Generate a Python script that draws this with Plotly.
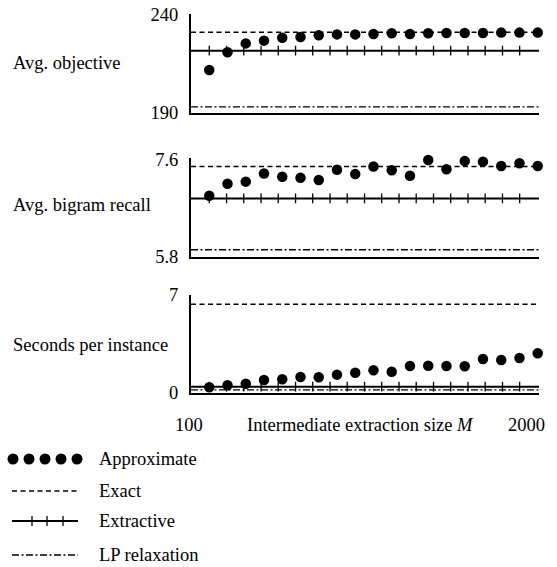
import plotly.graph_objects as go

# ---------------- data ----------------
M = [200, 300, 400, 500, 600, 700, 800, 900, 1000, 1100,
     1200, 1300, 1400, 1500, 1600, 1700, 1800, 1900, 2000]

AVG_OBJECTIVE = [211.9, 221.0, 225.5, 226.9, 228.4, 228.8, 229.6, 230.1, 230.1, 230.3,
                 230.7, 230.3, 230.7, 230.8, 230.8, 230.8, 231.0, 231.0, 231.0]
AVG_BIGRAM_RECALL = [6.93, 7.15, 7.19, 7.34, 7.28, 7.26, 7.22, 7.41, 7.33, 7.47,
                     7.40, 7.30, 7.59, 7.42, 7.57, 7.56, 7.48, 7.53, 7.48]
SECONDS_PER_INSTANCE = [0.41, 0.55, 0.66, 0.93, 0.98, 1.14, 1.12, 1.31, 1.45, 1.62,
                        1.52, 1.93, 1.95, 1.93, 1.91, 2.43, 2.36, 2.50, 2.84]

EXACT_LEVEL = [231.2, 7.47, 6.34]
EXTRACTIVE_LEVEL = [221.8, 6.88, 0.45]
LP_LEVEL = [193.1, 5.93, 0.22]

EXTRACTIVE_MARK_M = [200, 295, 389, 484, 578, 673, 767, 862, 956, 1051,
                     1145, 1240, 1334, 1429, 1523, 1618, 1712, 1807, 1901]

PANEL_TITLES = ["Avg. objective", "Avg. bigram recall", "Seconds per instance"]
Y_TICKS = [[190, 240], [5.8, 7.6], [0, 7]]
Y_TICK_TEXT = [["190", "240"], ["5.8", "7.6"], ["0", "7"]]
X_TICK_TEXT = ["100", "2000"]
X_TITLE = "Intermediate extraction size <i>M</i>"
LEGEND_LABELS = ["Approximate", "Exact", "Extractive", "LP relaxation"]

SERIES = [AVG_OBJECTIVE, AVG_BIGRAM_RECALL, SECONDS_PER_INSTANCE]

# ---------------- layout constants ----------------
W, H = 557, 567
FONT = "Liberation Serif"
FS = 18.5
X_RANGE = [100, 2007]
Y_RANGES = [[190, 240.5], [5.8, 7.622], [0, 7.0]]
PANEL_PX = [(14, 113), (158.3, 256.8), (295, 393)]
TITLE_SHIFT = [0, 3, -1]
X_PX = (191, 539)

EXACT_DASH = "5px,3.5px"
LP_DASH = "7px,2.5px,2px,2.5px"
TXT = dict(family=FONT, size=FS, color="black")

fig = go.Figure()

for i in range(3):
    ax = "" if i == 0 else str(i + 1)
    xr, yr = "x" + ax, "y" + ax
    fig.add_trace(go.Scatter(x=X_RANGE, y=[LP_LEVEL[i]] * 2, mode="lines",
                             line=dict(color="black", width=1.3, dash=LP_DASH),
                             xaxis=xr, yaxis=yr, showlegend=False, hoverinfo="skip"))
    fig.add_trace(go.Scatter(x=X_RANGE, y=[EXTRACTIVE_LEVEL[i]] * 2, mode="lines",
                             line=dict(color="black", width=2),
                             xaxis=xr, yaxis=yr, showlegend=False, hoverinfo="skip"))
    fig.add_trace(go.Scatter(x=EXTRACTIVE_MARK_M, y=[EXTRACTIVE_LEVEL[i]] * len(EXTRACTIVE_MARK_M),
                             mode="markers",
                             marker=dict(symbol="line-ns", size=7, line=dict(color="black", width=1.3)),
                             xaxis=xr, yaxis=yr, showlegend=False, hoverinfo="skip"))
    fig.add_trace(go.Scatter(x=X_RANGE, y=[EXACT_LEVEL[i]] * 2, mode="lines",
                             line=dict(color="black", width=1.3, dash=EXACT_DASH),
                             xaxis=xr, yaxis=yr, showlegend=False, hoverinfo="skip"))
    fig.add_trace(go.Scatter(x=M, y=SERIES[i], mode="markers",
                             marker=dict(color="black", size=10.5),
                             xaxis=xr, yaxis=yr, showlegend=False, cliponaxis=False))

    top, bot = PANEL_PX[i]
    fig.update_layout(**{
        "xaxis" + ax: dict(domain=[X_PX[0] / W, X_PX[1] / W], range=X_RANGE,
                           showline=True, linecolor="black", linewidth=2,
                           showgrid=False, zeroline=False, showticklabels=False,
                           ticks="", anchor=yr, automargin=False),
        "yaxis" + ax: dict(domain=[1 - bot / H, 1 - top / H], range=Y_RANGES[i],
                           showline=True, linecolor="black", linewidth=2,
                           showgrid=False, zeroline=False, ticks="",
                           tickvals=Y_TICKS[i], ticktext=Y_TICK_TEXT[i],
                           ticklabelstandoff=7, tickfont=TXT,
                           anchor=xr, automargin=False),
    })
    fig.add_annotation(text=PANEL_TITLES[i], xref="paper", yref=yr + " domain",
                       x=11 / W, y=0.5, xanchor="left", yanchor="middle",
                       yshift=TITLE_SHIFT[i], showarrow=False, font=TXT)

fig.add_annotation(text=X_TICK_TEXT[0], xref="x3", yref="paper", x=X_RANGE[0],
                   y=1 - 425 / H, xanchor="center", yanchor="middle", xshift=-2,
                   showarrow=False, font=TXT)
fig.add_annotation(text=X_TICK_TEXT[1], xref="x3", yref="paper", x=2000,
                   y=1 - 425 / H, xanchor="right", yanchor="middle", xshift=9,
                   showarrow=False, font=TXT)
fig.add_annotation(text=X_TITLE, xref="paper", yref="paper", x=360 / W,
                   y=1 - 425 / H, xanchor="center", yanchor="middle",
                   showarrow=False, font=TXT)

# ---------------- custom legend (pixel-coordinate overlay axis) ----------------
LEG_Y = [459, 491, 521, 555]
LEG_X0, LEG_X1, LEG_TX = 12, 78, 97
fig.add_trace(go.Scatter(x=[13, 29, 45, 61, 77], y=[LEG_Y[0]] * 5, mode="markers",
                         marker=dict(color="black", size=11), xaxis="x4", yaxis="y4",
                         showlegend=False, hoverinfo="skip", cliponaxis=False))
fig.add_trace(go.Scatter(x=[LEG_X0, LEG_X1], y=[LEG_Y[1]] * 2, mode="lines",
                         line=dict(color="black", width=1.3, dash=EXACT_DASH),
                         xaxis="x4", yaxis="y4", showlegend=False, hoverinfo="skip"))
fig.add_trace(go.Scatter(x=[LEG_X0, LEG_X1], y=[LEG_Y[2]] * 2, mode="lines",
                         line=dict(color="black", width=2),
                         xaxis="x4", yaxis="y4", showlegend=False, hoverinfo="skip"))
fig.add_trace(go.Scatter(x=[32, 47, 63], y=[LEG_Y[2]] * 3, mode="markers",
                         marker=dict(symbol="line-ns", size=7, line=dict(color="black", width=1.3)),
                         xaxis="x4", yaxis="y4", showlegend=False, hoverinfo="skip"))
fig.add_trace(go.Scatter(x=[LEG_X0, LEG_X1], y=[LEG_Y[3]] * 2, mode="lines",
                         line=dict(color="black", width=1.3, dash=LP_DASH),
                         xaxis="x4", yaxis="y4", showlegend=False, hoverinfo="skip"))
for lab, yy in zip(LEGEND_LABELS, LEG_Y):
    fig.add_annotation(text=lab, xref="x4", yref="y4", x=LEG_TX, y=yy,
                       xanchor="left", yanchor="middle", showarrow=False, font=TXT)

fig.update_layout(
    xaxis4=dict(domain=[0, 1], range=[0, W], visible=False, anchor="y4", automargin=False),
    yaxis4=dict(domain=[0, 1], range=[H, 0], visible=False, anchor="x4", automargin=False),
    width=W, height=H, autosize=False,
    margin=dict(l=0, r=0, t=0, b=0, pad=0, autoexpand=False),
    paper_bgcolor="white", plot_bgcolor="rgba(0,0,0,0)",
    font=TXT, showlegend=False,
)

fig.write_html("out.html", post_script="document.body.style.margin='0';",
               config={"displayModeBar": False})
